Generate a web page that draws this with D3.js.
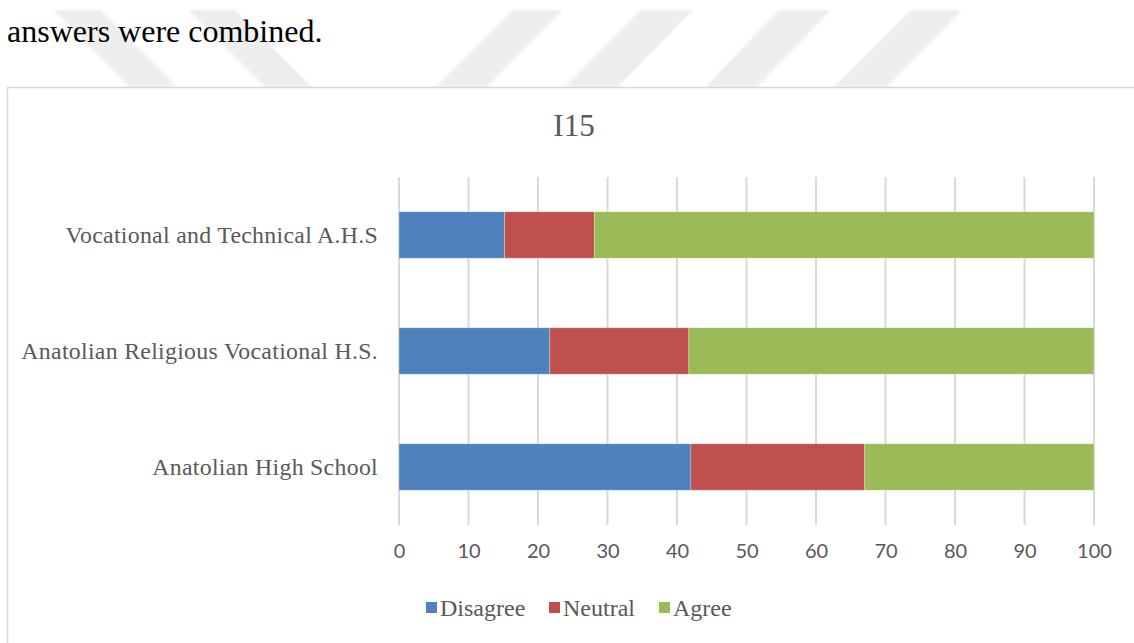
<!DOCTYPE html>
<html>
<head>
<meta charset="utf-8">
<script src="https://cdn.jsdelivr.net/npm/d3@7"></script>
<style>
  html, body { margin: 0; padding: 0; background: #fff; }
  svg { display: block; }
</style>
</head>
<body>
<svg id="chart" width="1134" height="643"></svg>
<script>
// ---- data ----
const categories = ["Vocational and Technical A.H.S", "Anatolian Religious Vocational H.S.", "Anatolian High School"];
const seriesNames = ["Disagree", "Neutral", "Agree"];
const disagree = [15.2, 21.7, 42.0];
const neutral  = [12.9, 20.0, 25.0];
const agree    = [71.9, 58.3, 33.0];
const xTicks = [0, 10, 20, 30, 40, 50, 60, 70, 80, 90, 100];
const chartTitle = "I15";
const leadText = "answers were combined.";

const colors = ["#4f81bd", "#c0504d", "#9bbb59"];
const serif = "Liberation Serif, Times New Roman, serif";

const svg = d3.select("#chart");

// ---- watermark stripes (background decoration) ----
const defs = svg.append("defs");
defs.append("filter").attr("id", "soft").append("feGaussianBlur").attr("stdDeviation", 1.2);
const stripes = [
  [[53,10],[100,10],[177,87],[130,87]],
  [[188,10],[235,10],[312,87],[265,87]],
  [[513,10],[563,10],[487,87],[435,87]],
  [[640,10],[693,10],[618,87],[565,87]],
  [[779,10],[831,10],[757,87],[705,87]],
  [[911,10],[962,10],[887,87],[834,87]]
];
svg.append("g").attr("filter", "url(#soft)")
  .selectAll("polygon").data(stripes).join("polygon")
  .attr("points", d => d.map(p => p.join(",")).join(" "))
  .attr("fill", "#eeeeee");

svg.append("text")
  .attr("x", 7).attr("y", 42)
  .style("font-family", serif)
  .style("font-size", "32px")
  .attr("fill", "#000")
  .text(leadText);

// ---- chart frame ----
svg.append("rect")
  .attr("x", 7.5).attr("y", 87.5)
  .attr("width", 1140).attr("height", 600)
  .attr("fill", "#fff")
  .attr("stroke", "#d9d9d9").attr("stroke-width", 1.5);

// ---- title ----
svg.append("text")
  .attr("x", 574).attr("y", 136)
  .attr("text-anchor", "middle")
  .style("font-family", serif)
  .style("font-size", "31px")
  .attr("fill", "#595959")
  .text(chartTitle);

// ---- scales ----
const x = d3.scaleLinear().domain([0, 100]).range([399, 1094]);
const y = d3.scaleBand().domain(categories).range([177, 525]).paddingInner(0.6).paddingOuter(0.3);

// gridlines
svg.append("g")
  .selectAll("line").data(xTicks).join("line")
  .attr("x1", d => x(d)).attr("x2", d => x(d))
  .attr("y1", 177).attr("y2", 525)
  .attr("stroke", "#d9d9d9").attr("stroke-width", 2);

// x axis labels (via d3 axis)
const xAxis = d3.axisBottom(x).tickValues(xTicks).tickSize(0).tickPadding(0).tickFormat(d3.format("d"));
const gx = svg.append("g").attr("transform", "translate(0,548)").call(xAxis);
gx.select(".domain").remove();
gx.selectAll("text")
  .style("font-family", "Lato, Open Sans, sans-serif")
  .style("font-size", "20px")
  .attr("fill", "#595959")
  .attr("dy", "0.5em");

// y axis labels
const yAxis = d3.axisLeft(y).tickSize(0).tickPadding(0);
const gy = svg.append("g").attr("transform", "translate(378,0)").call(yAxis);
gy.select(".domain").remove();
gy.selectAll("text")
  .style("font-family", serif)
  .style("font-size", "23.8px")
  .style("letter-spacing", "0.3px")
  .attr("fill", "#595959");

// ---- stacked bars ----
const rows = categories.map((c, i) => ({ cat: c, Disagree: disagree[i], Neutral: neutral[i], Agree: agree[i] }));
const stack = d3.stack().keys(seriesNames)(rows);

svg.append("g").selectAll("g").data(stack).join("g")
  .attr("fill", (d, i) => colors[i])
  .selectAll("rect").data(d => d).join("rect")
  .attr("x", d => x(d[0]))
  .attr("width", d => x(d[1]) - x(d[0]))
  .attr("y", d => y(d.data.cat))
  .attr("height", y.bandwidth())
  .attr("stroke", "#ffffff").attr("stroke-opacity", 0.35).attr("stroke-width", 0.75);

// ---- legend ----
const legendItems = [
  { name: seriesNames[0], color: colors[0], x: 426 },
  { name: seriesNames[1], color: colors[1], x: 549 },
  { name: seriesNames[2], color: colors[2], x: 659 }
];
const lg = svg.append("g").selectAll("g").data(legendItems).join("g")
  .attr("transform", d => `translate(${d.x},0)`);
lg.append("rect").attr("x", 0).attr("y", 602).attr("width", 11).attr("height", 11).attr("fill", d => d.color);
lg.append("text")
  .attr("x", 14).attr("y", 616)
  .style("font-family", serif)
  .style("font-size", "24px")
  .attr("fill", "#595959")
  .text(d => d.name);
</script>
</body>
</html>
